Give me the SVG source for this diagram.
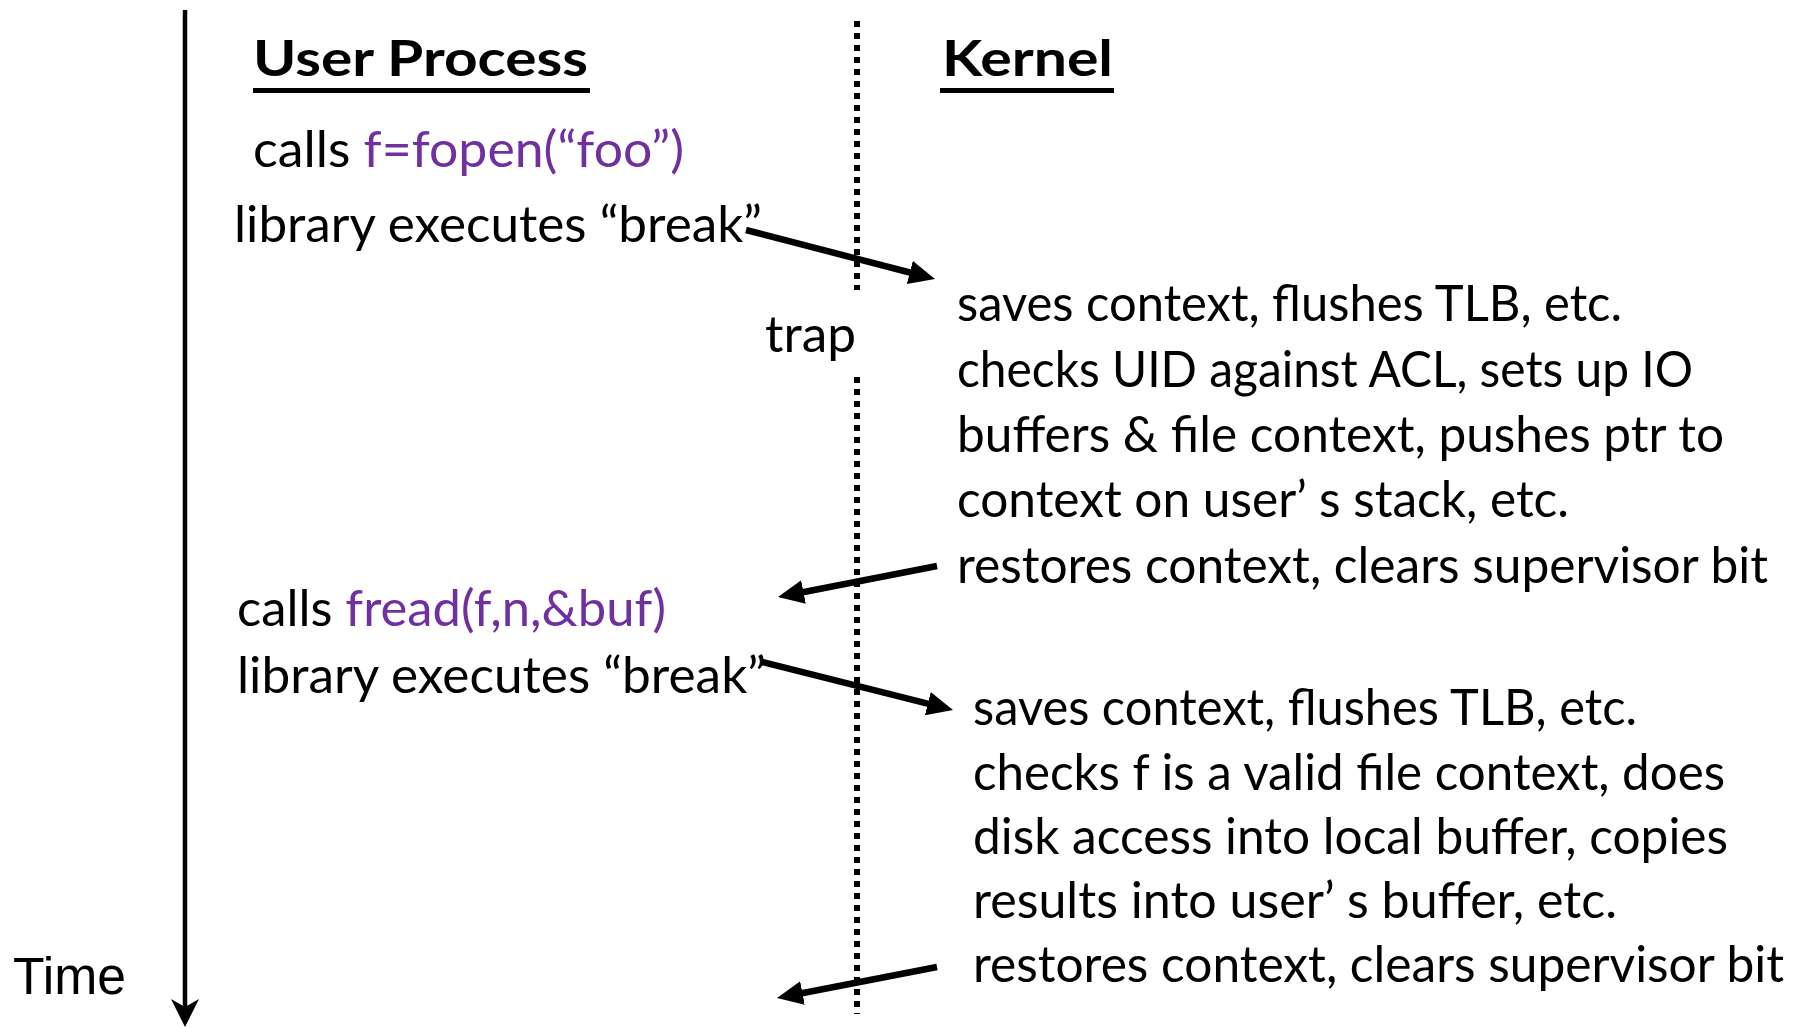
<svg xmlns="http://www.w3.org/2000/svg" width="1806" height="1028" viewBox="0 0 1806 1028">
<style>
.t{font-family:Lato,"Noto Sans",sans-serif;font-size:50px;fill:#000}
.h{font-family:Lato,"Noto Sans",sans-serif;font-size:50px;font-weight:bold;fill:#000}
.p{fill:#7030A0}
.time{font-family:"Liberation Sans",Arial,sans-serif;font-size:51px;fill:#000}
.arr{stroke:#000;stroke-width:6.5;fill:none;marker-end:url(#ah)}
</style>
<defs>
<marker id="ah" markerUnits="userSpaceOnUse" viewBox="0 0 26 24" markerWidth="26" markerHeight="24" refX="6" refY="12" orient="auto">
<path d="M0,0 L26,12 L0,24 z" fill="#000"/>
</marker>
</defs>
<rect width="1806" height="1028" fill="#fff"/>
<g id="time-axis">
<line x1="185" y1="10" x2="185" y2="1008" stroke="#000" stroke-width="4.5"/>
<path d="M185,1027 L171,999 L185,1007 L199,999 z" fill="#000"/>
<text class="time" x="13" y="994" textLength="113" lengthAdjust="spacingAndGlyphs">Time</text>
</g>
<g id="boundary">
<line x1="857" y1="21" x2="857" y2="290" stroke="#000" stroke-width="6" stroke-dasharray="6 6"/>
<line x1="857" y1="377" x2="857" y2="1014" stroke="#000" stroke-width="6" stroke-dasharray="6 6"/>
<text class="t" x="765" y="352" textLength="91" lengthAdjust="spacingAndGlyphs">trap</text>
</g>
<g id="user-header">
<text class="h" x="253" y="76" textLength="335" lengthAdjust="spacingAndGlyphs">User Process</text>
<rect x="253" y="88" width="337" height="5" fill="#000"/>
</g>
<g id="kernel-header">
<text class="h" x="942" y="76" textLength="171" lengthAdjust="spacingAndGlyphs">Kernel</text>
<rect x="940" y="88" width="174" height="5" fill="#000"/>
</g>
<g id="user-fopen">
<text class="t" x="253" y="167" textLength="431" lengthAdjust="spacingAndGlyphs">calls <tspan class="p">f=fopen(“foo”)</tspan></text>
<text class="t" x="234" y="242" textLength="528" lengthAdjust="spacingAndGlyphs">library executes “break”</text>
</g>
<g id="kernel-fopen">
<text class="t" x="957" y="321" textLength="665" lengthAdjust="spacingAndGlyphs">saves context, flushes TLB, etc.</text>
<text class="t" x="957" y="387" textLength="736" lengthAdjust="spacingAndGlyphs">checks UID against ACL, sets up IO</text>
<text class="t" x="957" y="452" textLength="767" lengthAdjust="spacingAndGlyphs">buffers &amp; file context, pushes ptr to</text>
<text class="t" x="957" y="517" textLength="612" lengthAdjust="spacingAndGlyphs">context on user’ s stack, etc.</text>
<text class="t" x="957" y="583" textLength="811" lengthAdjust="spacingAndGlyphs">restores context, clears supervisor bit</text>
</g>
<g id="user-fread">
<text class="t" x="237" y="626" textLength="429" lengthAdjust="spacingAndGlyphs">calls <tspan class="p">fread(f,n,&amp;buf)</tspan></text>
<text class="t" x="237" y="693" textLength="529" lengthAdjust="spacingAndGlyphs">library executes “break”</text>
</g>
<g id="kernel-fread">
<text class="t" x="973" y="725" textLength="664" lengthAdjust="spacingAndGlyphs">saves context, flushes TLB, etc.</text>
<text class="t" x="973" y="790" textLength="752" lengthAdjust="spacingAndGlyphs">checks f is a valid file context, does</text>
<text class="t" x="973" y="854" textLength="755" lengthAdjust="spacingAndGlyphs">disk access into local buffer, copies</text>
<text class="t" x="973" y="918" textLength="644" lengthAdjust="spacingAndGlyphs">results into user’ s buffer, etc.</text>
<text class="t" x="973" y="982" textLength="811" lengthAdjust="spacingAndGlyphs">restores context, clears supervisor bit</text>
</g>
<g id="connectors">
<line class="arr" x1="746" y1="230" x2="915.6" y2="274"/>
<line class="arr" x1="937" y1="566" x2="797.6" y2="593.2"/>
<line class="arr" x1="762" y1="662" x2="933.6" y2="705.1"/>
<line class="arr" x1="937" y1="967" x2="796.6" y2="994.2"/>
</g>
</svg>
